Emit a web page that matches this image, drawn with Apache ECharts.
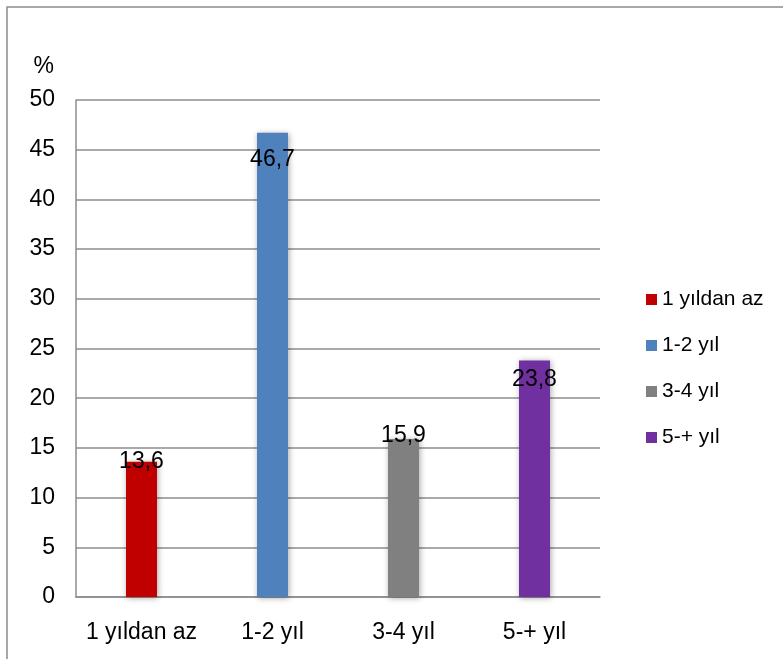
<!DOCTYPE html>
<html>
<head>
<meta charset="utf-8">
<script src="https://cdn.jsdelivr.net/npm/echarts@6/dist/echarts.min.js"></script>
<style>
  html, body { margin: 0; padding: 0; background: #ffffff; }
  #chart { width: 783px; height: 659px; }
</style>
</head>
<body>
<div id="chart"></div>
<script>
// Çalışma süresi dağılımı (%)
const categories = ['1 yıldan az', '1-2 yıl', '3-4 yıl', '5-+ yıl'];
const percentages = [13.6, 46.7, 15.9, 23.8];
const barColors = ['#C00000', '#4F81BD', '#808080', '#7030A0'];
const yTicks = { min: 0, max: 50, interval: 5 };

// vertical placement of each value label, px below the bar top
const labelDrop = [0, 27, -3, 19];

const FONT = 'Liberation Sans';

const series = categories.map((name, i) => ({
  name: name,
  type: 'bar',
  stack: 'all',
  barWidth: 31,
  data: categories.map((_, j) => (j === i ? percentages[i] : '-')),
  itemStyle: {
    color: barColors[i],
    shadowBlur: 6,
    shadowColor: 'rgba(0,0,0,0.35)',
    shadowOffsetX: 1,
    shadowOffsetY: 1
  },
  label: {
    show: true,
    position: ['50%', labelDrop[i]],
    align: 'center',
    verticalAlign: 'middle',
    fontFamily: FONT,
    fontSize: 23,
    color: '#000000',
    formatter: p => p.value.toFixed(1).replace('.', ',')
  },
  emphasis: { disabled: true }
}));

const chart = echarts.init(document.getElementById('chart'), null, { renderer: 'canvas' });
chart.setOption({
  animation: false,
  backgroundColor: '#ffffff',
  textStyle: { fontFamily: FONT },
  graphic: [{
    type: 'rect',
    shape: { x: 7, y: 7, width: 800, height: 700 },
    style: { fill: 'none', stroke: '#8c8c8c', lineWidth: 1.5 },
    z: 0
  }],
  grid: { left: 76, right: 183, top: 100, bottom: 62, containLabel: false },
  legend: {
    orient: 'vertical',
    left: 641,
    top: 284,
    icon: 'rect',
    itemWidth: 11,
    itemHeight: 11,
    itemGap: 25,
    textStyle: { fontFamily: FONT, fontSize: 21, color: '#000000' },
    data: categories
  },
  xAxis: {
    type: 'category',
    data: categories,
    axisLine: { show: true, lineStyle: { color: '#8c8c8c', width: 1.5 } },
    axisTick: { show: false },
    axisLabel: { interval: 0, hideOverlap: false, margin: 24, fontFamily: FONT, fontSize: 23, color: '#000000' }
  },
  yAxis: {
    type: 'value',
    min: yTicks.min,
    max: yTicks.max,
    interval: yTicks.interval,
    name: '%',
    nameLocation: 'end',
    nameGap: 22,
    nameTextStyle: { fontFamily: FONT, fontSize: 23, color: '#000000', align: 'right', padding: [0, 22, 0, 0] },
    axisLine: { show: true, lineStyle: { color: '#8c8c8c', width: 1.5 } },
    axisTick: { show: false },
    axisLabel: { margin: 21, fontFamily: FONT, fontSize: 23, color: '#000000' },
    splitLine: { show: true, lineStyle: { color: '#8c8c8c', width: 1.5 } }
  },
  series: series
});
</script>
</body>
</html>
